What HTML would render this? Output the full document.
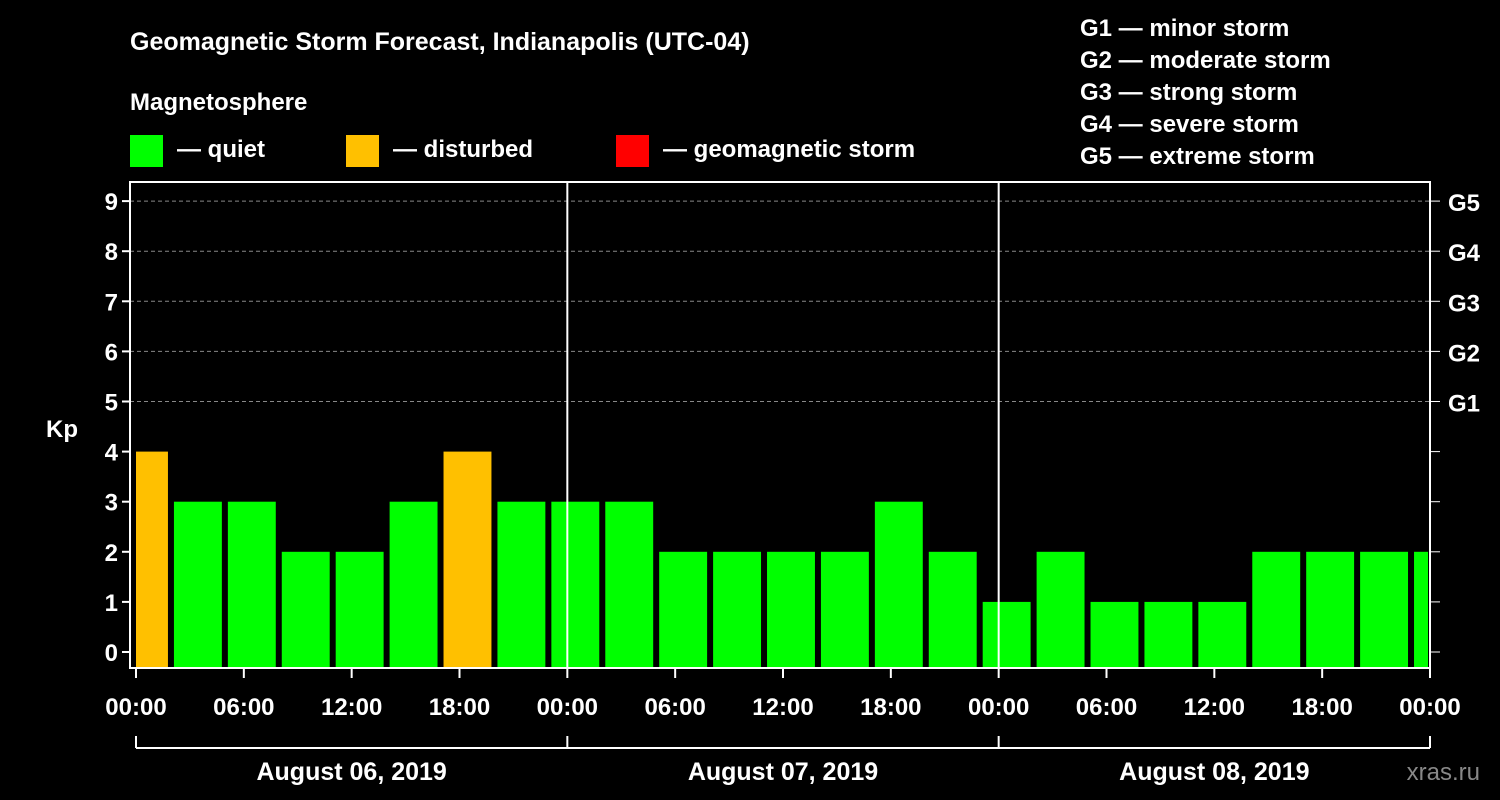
<!DOCTYPE html>
<html><head><meta charset="utf-8"><style>
html,body{margin:0;padding:0;background:#000;width:1500px;height:800px;overflow:hidden}
svg{display:block;font-family:"Liberation Sans",Arial,sans-serif;font-weight:bold}
</style></head><body>
<svg id="chart" width="1500" height="800" viewBox="0 0 1500 800">
<text x="130" y="50" fill="#fff" font-size="25">Geomagnetic Storm Forecast, Indianapolis (UTC-04)</text>
<text x="130" y="110" fill="#fff" font-size="24">Magnetosphere</text>
<rect x="130" y="135" width="33" height="32" fill="#00ff00"/>
<text x="177" y="157" fill="#fff" font-size="24">— quiet</text>
<rect x="346" y="135" width="33" height="32" fill="#ffc000"/>
<text x="393" y="157" fill="#fff" font-size="24">— disturbed</text>
<rect x="616" y="135" width="33" height="32" fill="#ff0000"/>
<text x="663" y="157" fill="#fff" font-size="24">— geomagnetic storm</text>
<g fill="#fff" font-size="24">
<text x="1080" y="36">G1 — minor storm</text>
<text x="1080" y="68">G2 — moderate storm</text>
<text x="1080" y="100">G3 — strong storm</text>
<text x="1080" y="132">G4 — severe storm</text>
<text x="1080" y="164">G5 — extreme storm</text>
</g>
<text x="62" y="437" fill="#fff" font-size="24" text-anchor="middle">Kp</text>
<g id="grid"></g><g id="bars"></g><g id="axes"></g>
<text x="1480" y="780" fill="#888" font-size="24" text-anchor="end" font-weight="normal">xras.ru</text>
</svg>
<script>
const kpValues=[4,3,3,2,2,3,4,3,3,3,2,2,2,2,3,2,1,2,1,1,1,2,2,2,2];
const barStartHours=[-1,2,5,8,11,14,17,20,23,26,29,32,35,38,41,44,47,50,53,56,59,62,65,68,71];
const yTicks=[0,1,2,3,4,5,6,7,8,9];
const gLabels=["G1","G2","G3","G4","G5"];
const xTickLabels=["00:00","06:00","12:00","18:00","00:00","06:00","12:00","18:00","00:00","06:00","12:00","18:00","00:00"];
const dayLabels=["August 06, 2019","August 07, 2019","August 08, 2019"];
const NS="http://www.w3.org/2000/svg";
const X0=136,X1=1430,HOURS=72,PT=182,PB=668,PL=130;
const xs=h=>X0+(h/HOURS)*(X1-X0);
const ys=v=>652-v*50.1;
function mk(tag,attrs,parent,text){const e=document.createElementNS(NS,tag);for(const k in attrs)e.setAttribute(k,attrs[k]);if(text!==undefined)e.textContent=text;parent.appendChild(e);return e;}
const grid=document.getElementById('grid'),bars=document.getElementById('bars'),axes=document.getElementById('axes');
for(let v=5;v<=9;v++){const l=mk('line',{x1:PL,x2:X1,y1:ys(v),y2:ys(v),stroke:'#888','stroke-dasharray':'4,3','stroke-width':1},grid);

}
kpValues.forEach((v,i)=>{const h0=Math.max(0,barStartHours[i]),h1=Math.min(HOURS,barStartHours[i]+3);
const xa=xs(h0)+(barStartHours[i]<0?0:2),xb=xs(h1)-(h1>=HOURS?2:4);
const r=mk('rect',{x:xa,y:ys(v),width:xb-xa,height:PB-ys(v),fill:v>=5?'#ff0000':(v>=4?'#ffc000':'#00ff00')},bars);

});
const frame=mk('rect',{x:PL,y:PT,width:X1-PL,height:PB-PT,fill:'none',stroke:'#fff','stroke-width':2},axes);


[24,48].forEach(h=>{const l=mk('line',{x1:xs(h),x2:xs(h),y1:PT,y2:PB,stroke:'#fff','stroke-width':2},axes);

});
yTicks.forEach(v=>{mk('line',{x1:PL-8,x2:PL,y1:ys(v),y2:ys(v),stroke:'#fff','stroke-width':2},axes);
mk('line',{x1:X1,x2:X1+10,y1:ys(v),y2:ys(v),stroke:'#fff','stroke-width':1},axes);
const t=mk('text',{x:PL-12,y:ys(v)+9,fill:'#fff','font-size':24,'text-anchor':'end'},axes,String(v));

});
gLabels.forEach((g,i)=>{const t=mk('text',{x:1448,y:ys(5+i)+10,fill:'#fff','font-size':24},axes,g);

});
xTickLabels.forEach((s,i)=>{const x=xs(i*6);mk('line',{x1:x,x2:x,y1:PB,y2:PB+10,stroke:'#fff','stroke-width':2},axes);
const t=mk('text',{x:x,y:715,fill:'#fff','font-size':24,'text-anchor':'middle'},axes,s);

});
mk('line',{x1:xs(0),x2:xs(72),y1:748,y2:748,stroke:'#fff','stroke-width':2},axes);
[0,24,48,72].forEach(h=>mk('line',{x1:xs(h),x2:xs(h),y1:736,y2:748,stroke:'#fff','stroke-width':2},axes));
dayLabels.forEach((d,i)=>{const t=mk('text',{x:xs(i*24+12),y:780,fill:'#fff','font-size':25,'text-anchor':'middle'},axes,d);

});
</script>
</body></html>
